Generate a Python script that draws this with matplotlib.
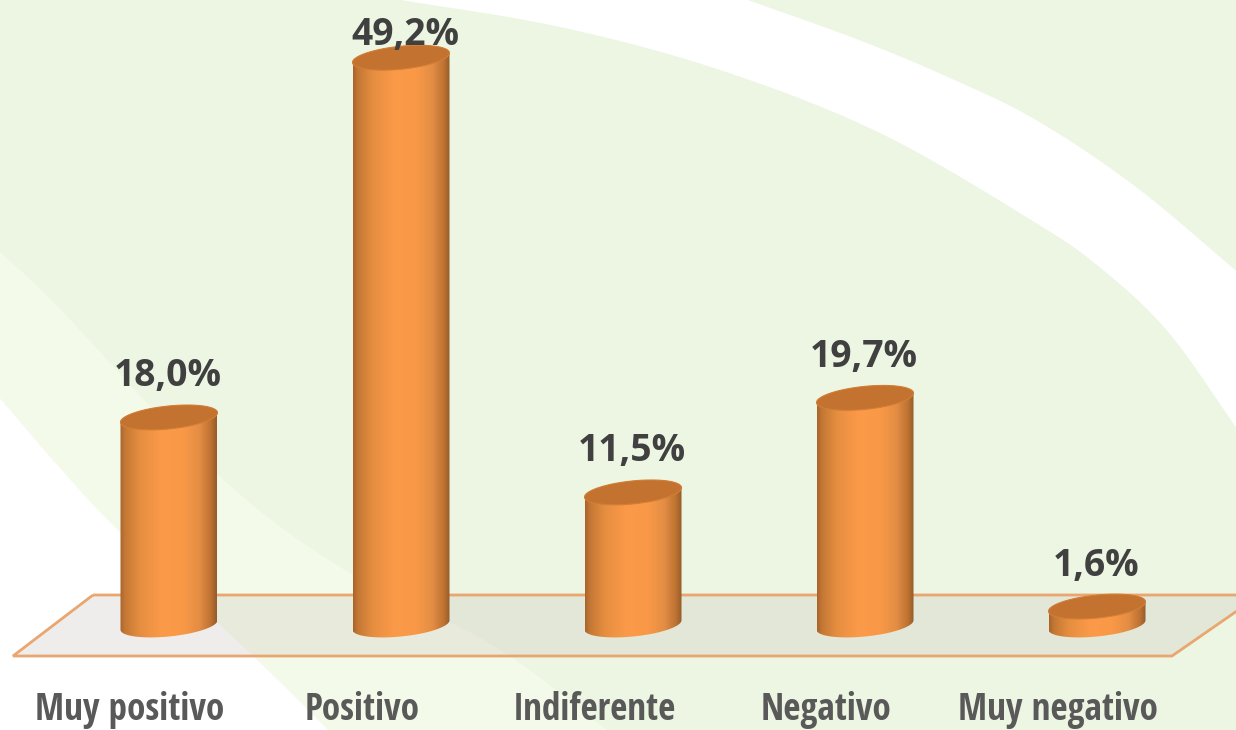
import numpy as np
import matplotlib
matplotlib.use('Agg')
import matplotlib.pyplot as plt
from matplotlib import font_manager as fm
from matplotlib.colors import LinearSegmentedColormap
from matplotlib.path import Path
from matplotlib.patches import Polygon
from matplotlib.transforms import ScaledTranslation

categories = ['Muy positivo', 'Positivo', 'Indiferente', 'Negativo', 'Muy negativo']
values = [18.0, 49.2, 11.5, 19.7, 1.6]
value_labels = ['18,0%', '49,2%', '11,5%', '19,7%', '1,6%']

W, H = 1236, 730
PX_X = 232.0    # pixels per category
PX_Y = 11.53    # pixels per percent
X0, Y0 = 169, 625   # pixel of first bar, zero line
FLOOR_Y = 656

installed = {f.name for f in fm.fontManager.ttflist}
label_font = 'Open Sans'
for name in ['Open Sans Condensed', 'Roboto Condensed', 'Archivo Narrow', 'Asap Condensed']:
    if name in installed:
        label_font = name
        break

fig = plt.figure(figsize=(W / 100, H / 100), dpi=100, facecolor='white')

# background art, in pixels
bg = fig.add_axes([0, 0, 1, 1], zorder=0)
bg.set_xlim(0, W)
bg.set_ylim(H, 0)
bg.axis('off')


def curve(pts, n=24):
    # catmull-rom line through pts
    p = np.array(pts, float)
    p = np.vstack([2 * p[0] - p[1], p, 2 * p[-1] - p[-2]])
    u = np.linspace(0, 1, n, endpoint=False).reshape(-1, 1)
    out = []
    for k in range(1, len(p) - 2):
        a, b, c, d = p[k - 1], p[k], p[k + 1], p[k + 2]
        out.append(0.5 * (2 * b + (c - a) * u + (2 * a - 5 * b + 4 * c - d) * u ** 2
                          + (3 * b - a - 3 * c + d) * u ** 3))
    return np.vstack(out + [p[-2].reshape(1, 2)])


bg.fill_between([0, W], 0, H, color='#ecf6e2', lw=0)

band = curve([[-2, 250], [59, 308], [217, 474], [348, 572], [494, 646], [620, 740]])
bg.add_patch(Polygon(np.vstack([band, [[-2, 740]]]), closed=True, fc='#f4fae9', ec='none'))
white = curve([[-2, 396], [59, 467], [119, 531], [253, 656], [340, 742]])
bg.add_patch(Polygon(np.vstack([white, [[-2, 742]]]), closed=True, fc='white', ec='none'))

# white swoosh top right
low = curve([[395, -1], [560, 27], [720, 70], [880, 133], [1036, 223], [1103, 270], [1169, 333], [1240, 433]])
up = curve([[1240, 274], [1136, 187], [1036, 120], [950, 78], [859, 40], [745, -1]])
bg.add_patch(Polygon(np.vstack([low, up]), closed=True, fc='white', ec='none'))

# floor under the cylinders
floor = [[93, 595], [1260, 595], [1172, FLOOR_Y], [13, FLOOR_Y]]
bg.add_patch(Polygon(floor, closed=True, fc='#cdc6c0', ec='none', alpha=0.3))
bg.add_patch(Polygon(floor, closed=True, fc='none', ec='#e9a670', lw=2, joinstyle='miter'))

# chart itself
ax = fig.add_axes([0, (H - FLOOR_Y) / H, 1, FLOOR_Y / H], zorder=1)
ax.patch.set_visible(False)
ax.set_xlim(-X0 / PX_X, (W - X0) / PX_X)
ax.set_ylim((Y0 - FLOOR_Y) / PX_Y, Y0 / PX_Y)
ax.set_autoscale_on(False)
for s in ax.spines.values():
    s.set_visible(False)
ax.set_yticks([])

body_cmap = LinearSegmentedColormap.from_list('body', [
    (0.0, '#a8642c'), (0.05, '#c47835'), (0.2, '#e58d40'), (0.42, '#fb9a48'),
    (0.65, '#f99947'), (0.82, '#e48d44'), (0.94, '#bd7232'), (1.0, '#945c2a')])

half = 48.5 / PX_X
tilt = 4.7 / PX_Y
minor = 11.5 / PX_Y
t = np.linspace(0, 2 * np.pi, 121)
grad = np.linspace(0, 1, 256).reshape(1, -1)

for i, v in enumerate(values):
    tt = t[60:]
    xb = i + half * np.cos(tt)
    yb = tilt * np.cos(tt) + minor * np.sin(tt)
    tt = t[:61]
    xt = i + half * np.cos(tt)
    yt = v + tilt * np.cos(tt) + minor * np.sin(tt)
    body = Path(np.vstack([np.column_stack([xb, yb]), np.column_stack([xt, yt])]))
    im = ax.imshow(grad, extent=(i - half, i + half, -3, v + 3), aspect='auto', cmap=body_cmap,
                   interpolation='bilinear', zorder=3)
    im.set_clip_path(body, transform=ax.transData)

    lid = np.column_stack([i + half * np.cos(t), v + tilt * np.cos(t) + minor * np.sin(t)])
    ax.add_patch(Polygon(lid, closed=True, fc='#c4722f', ec='#d27e36', lw=0.8, zorder=4))

    # the tallest label sits on the lid, it has no room above it
    gap = 13 if v > 45 else 31
    dx = 4 if v > 45 else -1
    ax.annotate(value_labels[i], (i, v), xytext=(dx * 0.72, gap * 0.72), textcoords='offset points',
                ha='center', va='baseline', fontsize=26.8, fontweight='bold',
                family=['Open Sans', 'DejaVu Sans'], color='#404040', zorder=5)

ax.set_xticks(range(len(categories)))
ax.set_xticklabels(categories, fontsize=26.7, fontweight='bold', family=[label_font, 'DejaVu Sans'],
                   color='#595959')
ax.tick_params(axis='x', length=0, pad=25.5)
shift = ScaledTranslation(-39 / 100, 0, fig.dpi_scale_trans)
for lab in ax.get_xticklabels():
    lab.set_transform(lab.get_transform() + shift)

fig.savefig('out.png', dpi=100, facecolor='white')
